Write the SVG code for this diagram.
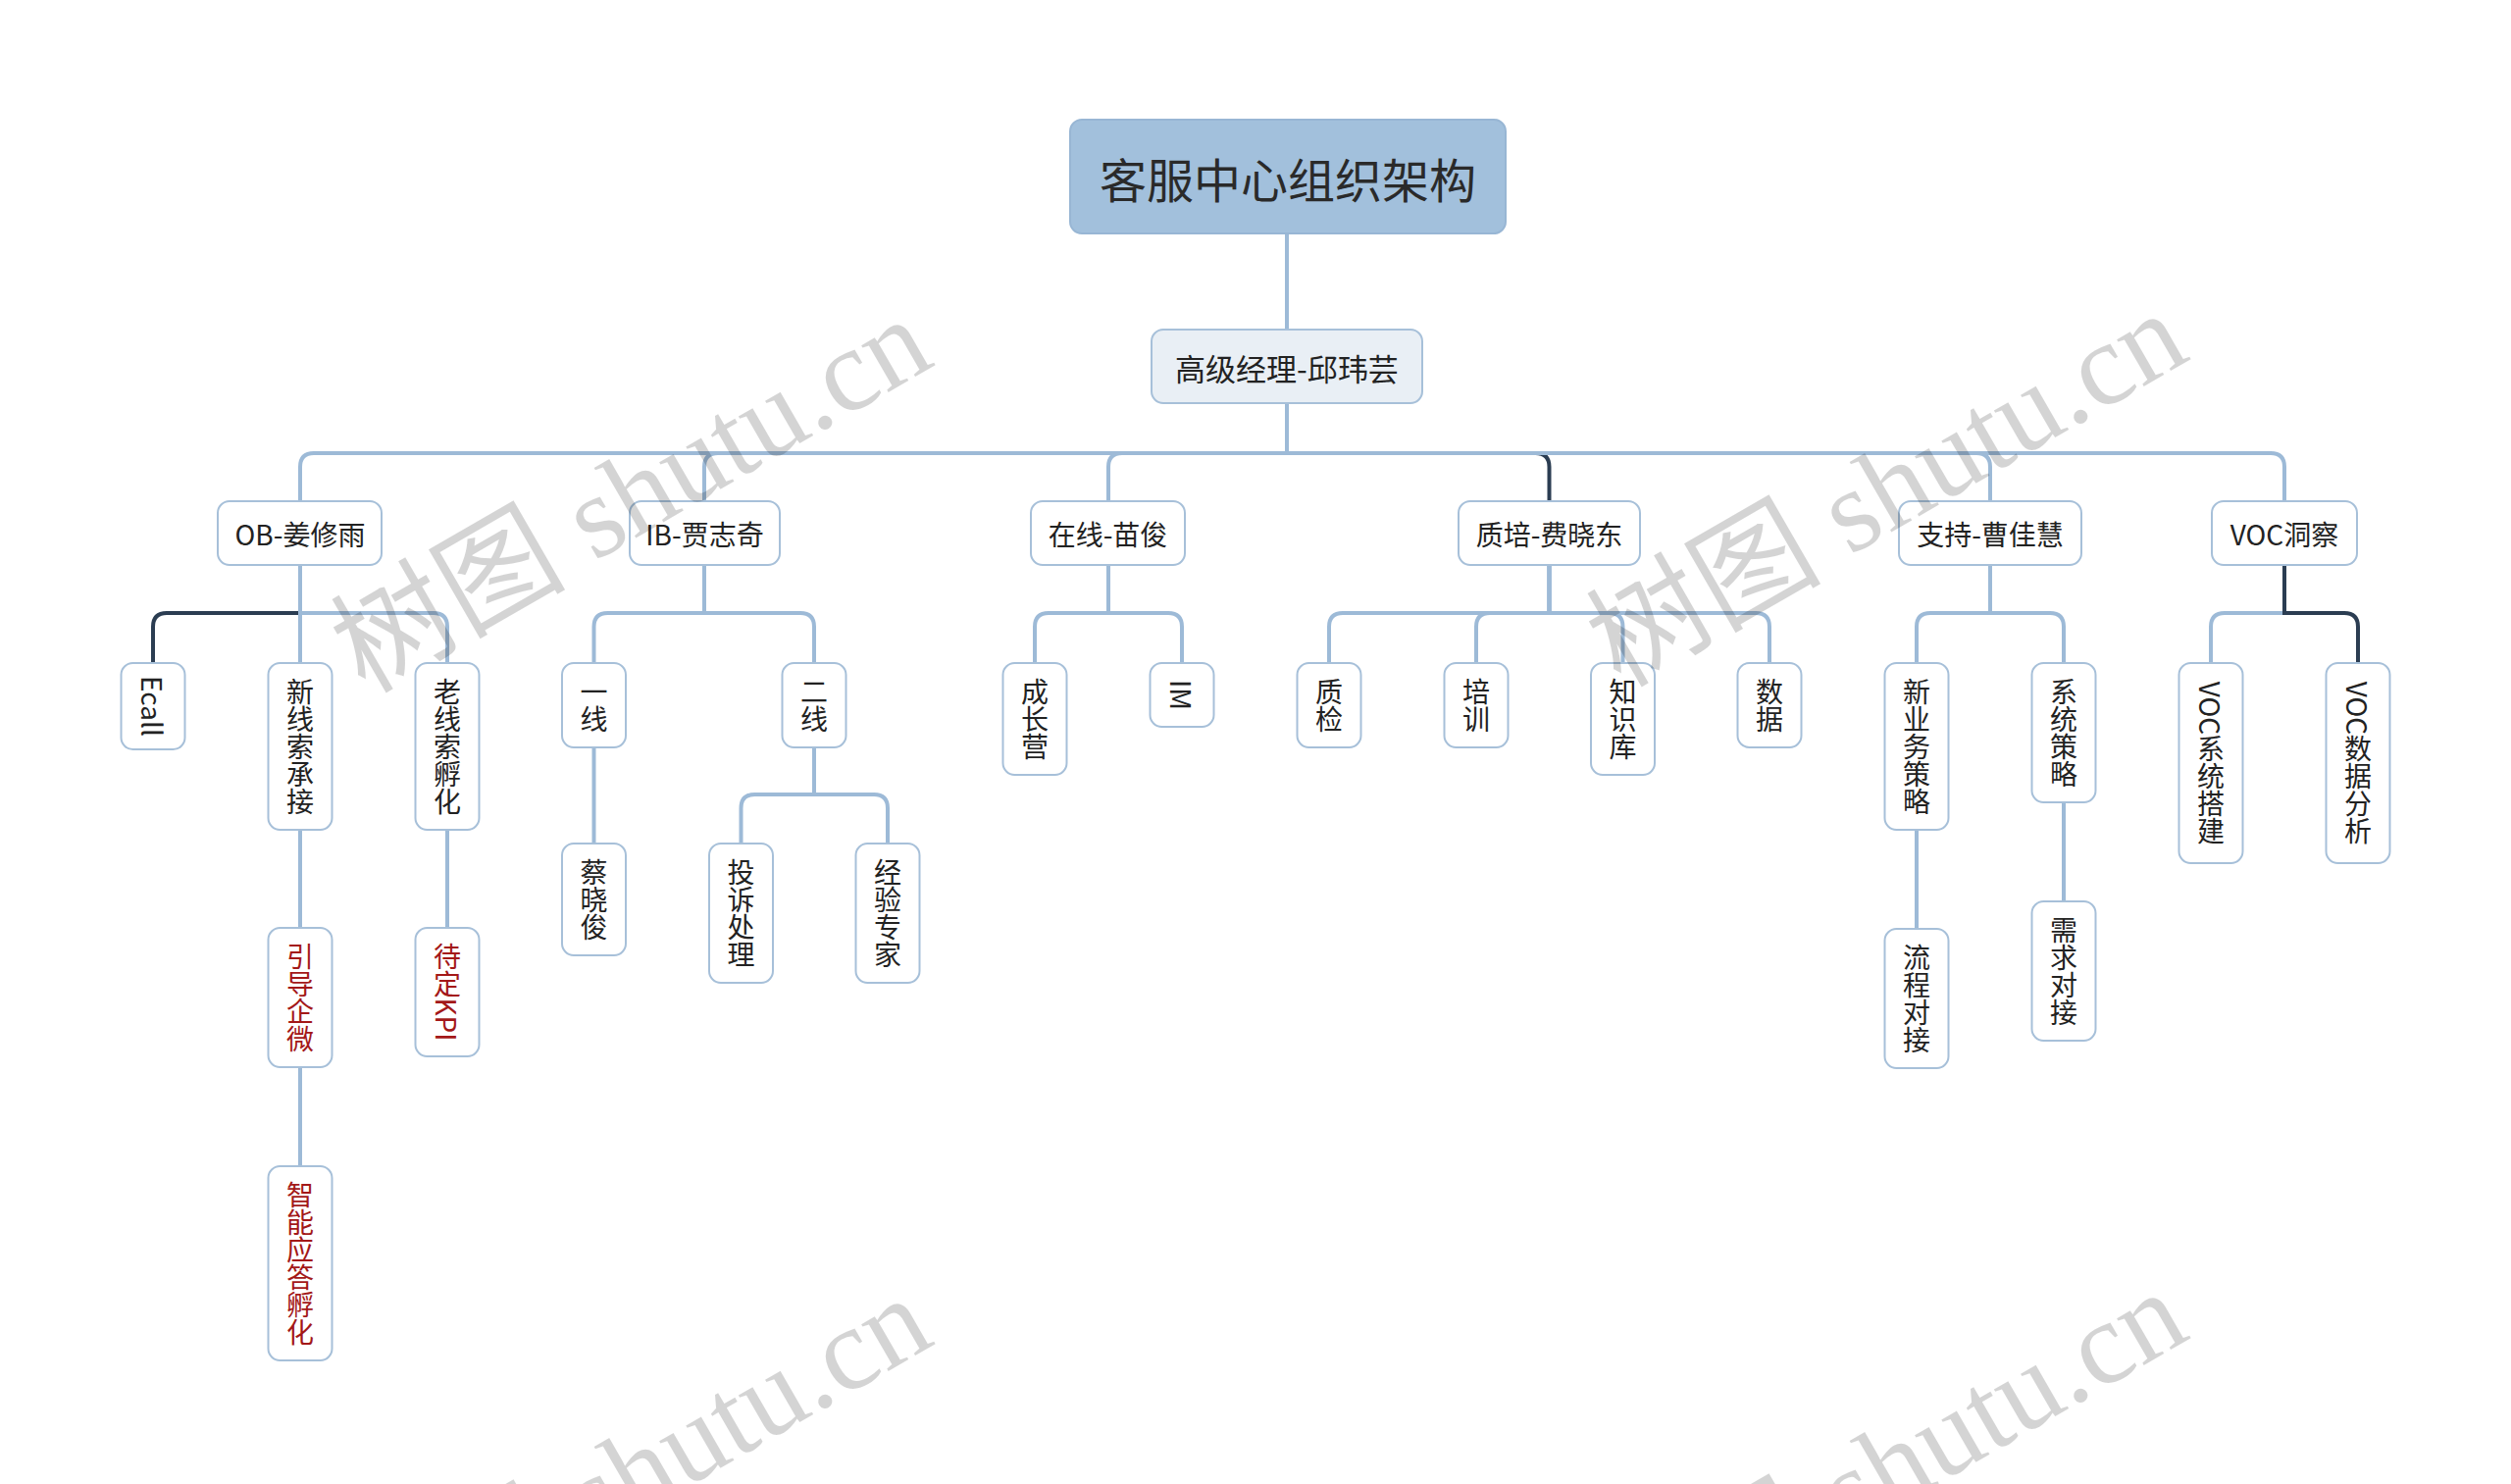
<svg xmlns="http://www.w3.org/2000/svg" width="2560" height="1513" viewBox="0 0 2560 1513">
<style>
.bg{fill:#ffffff}
.c{fill:none;stroke:#9dbad7;stroke-width:4}
.cd{fill:none;stroke:#2b3d52;stroke-width:4}
.n rect{fill:#ffffff;stroke:#a7c0d9;stroke-width:2}
.t{font-family:"Noto Sans CJK SC","Noto Sans",sans-serif;font-size:28px;fill:#222222;text-anchor:middle;dominant-baseline:central}
.v{writing-mode:vertical-rl}
.red{fill:#a31818}
.wm{font-size:120px;fill:#000000;fill-opacity:0.17}
.wm1{font-family:"Noto Sans CJK SC",sans-serif}
.wm2{font-family:"Liberation Serif",serif}
</style>
<rect class="bg" x="0" y="0" width="2560" height="1513"/>

<g id="connectors">
  <path class="c" d="M1312,238 V336"/>
  <path class="cd" d="M1312,411 V462 H1565.5 Q1579.5,462 1579.5,476 V511"/>
  <path class="c" d="M1312,411 V462 H320 Q306,462 306,476 V511"/>
  <path class="c" d="M1312,411 V462 H732 Q718,462 718,476 V511"/>
  <path class="c" d="M1312,411 V462 H1144 Q1130,462 1130,476 V511"/>
  <path class="c" d="M1312,411 V462 H2015 Q2029,462 2029,476 V511"/>
  <path class="c" d="M1312,411 V462 H2315 Q2329,462 2329,476 V511"/>

  <path class="cd" d="M306,576 V625 H170 Q156,625 156,639 V676"/>
  <path class="c" d="M306,576 V676"/>
  <path class="c" d="M306,576 V625 H442 Q456,625 456,639 V676"/>
  <path class="c" d="M306,846 V946"/>
  <path class="c" d="M306,1088 V1189"/>
  <path class="c" d="M456,846 V946"/>

  <path class="c" d="M718,576 V625 H619.5 Q605.5,625 605.5,639 V676"/>
  <path class="c" d="M718,576 V625 H816 Q830,625 830,639 V676"/>
  <path class="c" d="M605.5,762 V860"/>
  <path class="c" d="M830,762 V810 H769.5 Q755.5,810 755.5,824 V860"/>
  <path class="c" d="M830,762 V810 H891 Q905,810 905,824 V860"/>

  <path class="c" d="M1130,576 V625 H1069 Q1055,625 1055,639 V676"/>
  <path class="c" d="M1130,576 V625 H1191 Q1205,625 1205,639 V676"/>

  <path class="c" d="M1579.5,576 V625 H1369 Q1355,625 1355,639 V676"/>
  <path class="c" d="M1579.5,576 V625 H1519 Q1505,625 1505,639 V676"/>
  <path class="c" d="M1579.5,576 V625 H1640.5 Q1654.5,625 1654.5,639 V676"/>
  <path class="c" d="M1579.5,576 V625 H1790 Q1804,625 1804,639 V676"/>

  <path class="c" d="M2029,576 V625 H1968 Q1954,625 1954,639 V676"/>
  <path class="c" d="M2029,576 V625 H2090 Q2104,625 2104,639 V676"/>
  <path class="c" d="M1954,846 V947"/>
  <path class="c" d="M2104,818 V919"/>

  <path class="c" d="M2329,576 V625 H2268 Q2254,625 2254,639 V676"/>
  <path class="cd" d="M2329,576 V625 H2390 Q2404,625 2404,639 V676"/>
</g>

<g id="root" class="n">
  <rect x="1091" y="122" width="444" height="116" rx="12" style="fill:#a2c0dc;stroke:#98b6d4"/>
  <text class="t" x="1313" y="181" style="font-size:48px;fill:#2a2a2a">客服中心组织架构</text>
</g>
<g id="mgr" class="n">
  <rect x="1174" y="336" width="276" height="75" rx="12" style="fill:#e9eff5"/>
  <text class="t" x="1312" y="374" style="font-size:31px">高级经理-邱玮芸</text>
</g>

<g id="ob" class="n"><rect x="222" y="511" width="167" height="65" rx="12"/><text class="t" x="306" y="544">OB-姜修雨</text></g>
<g id="ib" class="n"><rect x="642" y="511" width="153" height="65" rx="12"/><text class="t" x="718.5" y="544">IB-贾志奇</text></g>
<g id="online" class="n"><rect x="1051" y="511" width="157" height="65" rx="12"/><text class="t" x="1129.5" y="544">在线-苗俊</text></g>
<g id="qt" class="n"><rect x="1487" y="511" width="185" height="65" rx="12"/><text class="t" x="1579.5" y="544">质培-费晓东</text></g>
<g id="support" class="n"><rect x="1936" y="511" width="186" height="65" rx="12"/><text class="t" x="2029" y="544">支持-曹佳慧</text></g>
<g id="voc" class="n"><rect x="2255" y="511" width="148" height="65" rx="12"/><text class="t" x="2329" y="544">VOC洞察</text></g>

<g id="ecall" class="n"><rect x="123.5" y="676" width="65" height="88" rx="12"/><text class="t v" x="156" y="720">Ecall</text></g>
<g id="xxscj" class="n"><rect x="273.5" y="676" width="65" height="170" rx="12"/><text class="t v" x="306" y="761">新线索承接</text></g>
<g id="lxsfh" class="n"><rect x="423.5" y="676" width="65" height="170" rx="12"/><text class="t v" x="456" y="761">老线索孵化</text></g>
<g id="ydqw" class="n"><rect x="273.5" y="946" width="65" height="142" rx="12"/><text class="t v red" x="306" y="1017">引导企微</text></g>
<g id="ddkpi" class="n"><rect x="423.5" y="946" width="65" height="131" rx="12"/><text class="t v red" x="456" y="1011.5">待定KPI</text></g>
<g id="znyd" class="n"><rect x="273.5" y="1189" width="65" height="198" rx="12"/><text class="t v red" x="306" y="1288">智能应答孵化</text></g>

<g id="yx" class="n"><rect x="573" y="676" width="65" height="86" rx="12"/><text class="t v" x="605.5" y="719">一线</text></g>
<g id="ex" class="n"><rect x="797.5" y="676" width="65" height="86" rx="12"/><text class="t v" x="830" y="719">二线</text></g>
<g id="cxj" class="n"><rect x="573" y="860" width="65" height="114" rx="12"/><text class="t v" x="605.5" y="917">蔡晓俊</text></g>
<g id="tscl" class="n"><rect x="723" y="860" width="65" height="142" rx="12"/><text class="t v" x="755.5" y="931">投诉处理</text></g>
<g id="jyzj" class="n"><rect x="872.5" y="860" width="65" height="142" rx="12"/><text class="t v" x="905" y="931">经验专家</text></g>

<g id="czy" class="n"><rect x="1022.5" y="676" width="65" height="114" rx="12"/><text class="t v" x="1055" y="733">成长营</text></g>
<g id="im" class="n"><rect x="1172.5" y="676" width="65" height="65" rx="12"/><text class="t v" x="1205" y="708.5">IM</text></g>

<g id="zj" class="n"><rect x="1322.5" y="676" width="65" height="86" rx="12"/><text class="t v" x="1355" y="719">质检</text></g>
<g id="px" class="n"><rect x="1472.5" y="676" width="65" height="86" rx="12"/><text class="t v" x="1505" y="719">培训</text></g>
<g id="zsk" class="n"><rect x="1622" y="676" width="65" height="114" rx="12"/><text class="t v" x="1654.5" y="733">知识库</text></g>
<g id="sj" class="n"><rect x="1771.5" y="676" width="65" height="86" rx="12"/><text class="t v" x="1804" y="719">数据</text></g>

<g id="xywcl" class="n"><rect x="1921.5" y="676" width="65" height="170" rx="12"/><text class="t v" x="1954" y="761">新业务策略</text></g>
<g id="xtcl" class="n"><rect x="2071.5" y="676" width="65" height="142" rx="12"/><text class="t v" x="2104" y="747">系统策略</text></g>
<g id="lcdj" class="n"><rect x="1921.5" y="947" width="65" height="142" rx="12"/><text class="t v" x="1954" y="1018">流程对接</text></g>
<g id="xqdj" class="n"><rect x="2071.5" y="919" width="65" height="142" rx="12"/><text class="t v" x="2104" y="990">需求对接</text></g>

<g id="vocxt" class="n"><rect x="2221.5" y="676" width="65" height="204" rx="12"/><text class="t v" x="2254" y="778">VOC系统搭建</text></g>
<g id="vocsj" class="n"><rect x="2371.5" y="676" width="65" height="204" rx="12"/><text class="t v" x="2404" y="778">VOC数据分析</text></g>

<g id="watermarks">
  <text class="wm" transform="translate(372,708) rotate(-30)"><tspan class="wm1">树图</tspan><tspan class="wm2"> shutu.cn</tspan></text>
  <text class="wm" transform="translate(1652,702) rotate(-30)"><tspan class="wm1">树图</tspan><tspan class="wm2"> shutu.cn</tspan></text>
  <text class="wm" transform="translate(372,1706) rotate(-30)"><tspan class="wm1">树图</tspan><tspan class="wm2"> shutu.cn</tspan></text>
  <text class="wm" transform="translate(1652,1700) rotate(-30)"><tspan class="wm1">树图</tspan><tspan class="wm2"> shutu.cn</tspan></text>
</g>
</svg>
